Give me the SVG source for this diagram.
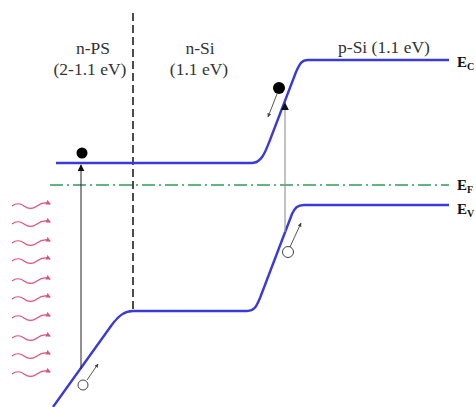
<svg xmlns="http://www.w3.org/2000/svg" xmlns:xlink="http://www.w3.org/1999/xlink" width="476" height="407" viewBox="0 0 476 407">
<style>
.band{fill:none;stroke:#3a3ad8;stroke-width:2.4;stroke-linejoin:round}
.fermi{fill:none;stroke:#2e9e55;stroke-width:1.3;stroke-dasharray:13 4 2 4}
.junc{fill:none;stroke:#111;stroke-width:1.5;stroke-dasharray:8 4}
.lbl{font-family:"Liberation Serif","Times New Roman",serif;font-size:17.5px;fill:#333;text-anchor:middle}
.elbl{font-family:"Liberation Serif","Times New Roman",serif;font-weight:bold;font-size:15px;fill:#111}
.sub{font-size:10px}
.wave{fill:none;stroke:#e0507a;stroke-width:1.1}
.el{fill:#000}
.hole{fill:#fff;stroke:#444;stroke-width:1}
.small{stroke:#444;stroke-width:0.9;fill:none}
</style>
<defs>
<marker id="ah" viewBox="0 0 10 10" refX="9" refY="5" markerWidth="7" markerHeight="7" markerUnits="userSpaceOnUse" orient="auto"><path d="M0,0 L10,5 L0,10 Z" fill="#111"/></marker>
<marker id="ahg" viewBox="0 0 10 10" refX="9" refY="5" markerWidth="8" markerHeight="8" markerUnits="userSpaceOnUse" orient="auto"><path d="M0,0 L10,5 L0,10 Z" fill="#111"/></marker>
<marker id="ahs" viewBox="0 0 10 10" refX="9" refY="5" markerWidth="4" markerHeight="4" markerUnits="userSpaceOnUse" orient="auto"><path d="M0,0 L10,5 L0,10 Z" fill="#444"/></marker>
<marker id="ahw" viewBox="0 0 10 10" refX="8" refY="5" markerWidth="5" markerHeight="5" markerUnits="userSpaceOnUse" orient="auto"><path d="M0,0 L10,5 L0,10 Z" fill="#e0507a"/></marker>
<path id="wv" class="wave" d="M0,0 c4,-3 8,-3 12,0 s9,3 13,0 s9,-4 13,-2" marker-end="url(#ahw)"/>
</defs>

<g id="labels">
<text class="lbl" x="93" y="54">n-PS</text>
<text class="lbl" x="90" y="75">(2-1.1 eV)</text>
<text class="lbl" x="200" y="54">n-Si</text>
<text class="lbl" x="199" y="75">(1.1 eV)</text>
<text class="lbl" x="384" y="53">p-Si (1.1 eV)</text>
<text class="elbl" x="457" y="67">E<tspan class="sub" dy="3">C</tspan></text>
<text class="elbl" x="457" y="190">E<tspan class="sub" dy="3">F</tspan></text>
<text class="elbl" x="457" y="214">E<tspan class="sub" dy="3">V</tspan></text>
</g>

<g id="junction">
<line class="junc" x1="133" y1="13" x2="133" y2="311"/>
</g>

<g id="fermi-level">
<line class="fermi" x1="50" y1="185" x2="449" y2="185"/>
</g>

<g id="conduction-band">
<path class="band" d="M56,163 H252 C262,163 266,150 270,140 L296,72 C300,63 302,60 308,60 H449"/>
</g>

<g id="valence-band">
<path class="band" d="M53,407 L111,326 C119,315 125,311 133,311 H247 C255,311 257,305 260,298 L292,214 C295,208 297,205 304,205 H449"/>
</g>

<g id="photons">
<use xlink:href="#wv" x="12" y="206"/>
<use xlink:href="#wv" x="12" y="224"/>
<use xlink:href="#wv" x="12" y="243"/>
<use xlink:href="#wv" x="12" y="261"/>
<use xlink:href="#wv" x="12" y="281"/>
<use xlink:href="#wv" x="12" y="299"/>
<use xlink:href="#wv" x="12" y="318"/>
<use xlink:href="#wv" x="12" y="338"/>
<use xlink:href="#wv" x="12" y="356"/>
<use xlink:href="#wv" x="12" y="374"/>
</g>

<g id="connectors">
<line x1="81" y1="369" x2="81" y2="165" stroke="#222" stroke-width="1" marker-end="url(#ah)"/>
<line x1="285" y1="232" x2="285" y2="103" stroke="#999" stroke-width="1.2" marker-end="url(#ahg)"/>
<line class="small" x1="87" y1="380" x2="98" y2="364" marker-end="url(#ahs)"/>
<line class="small" x1="277" y1="94" x2="268" y2="117" marker-end="url(#ahs)"/>
<line class="small" x1="290" y1="247" x2="301" y2="223" marker-end="url(#ahs)"/>
</g>

<g id="electron-1"><circle class="el" cx="82" cy="153" r="5.5"/></g>
<g id="electron-2"><circle class="el" cx="279" cy="88" r="6"/></g>
<g id="hole-1"><circle class="hole" cx="83" cy="385" r="5"/></g>
<g id="hole-2"><circle class="hole" cx="288" cy="252" r="5.5"/></g>
</svg>
